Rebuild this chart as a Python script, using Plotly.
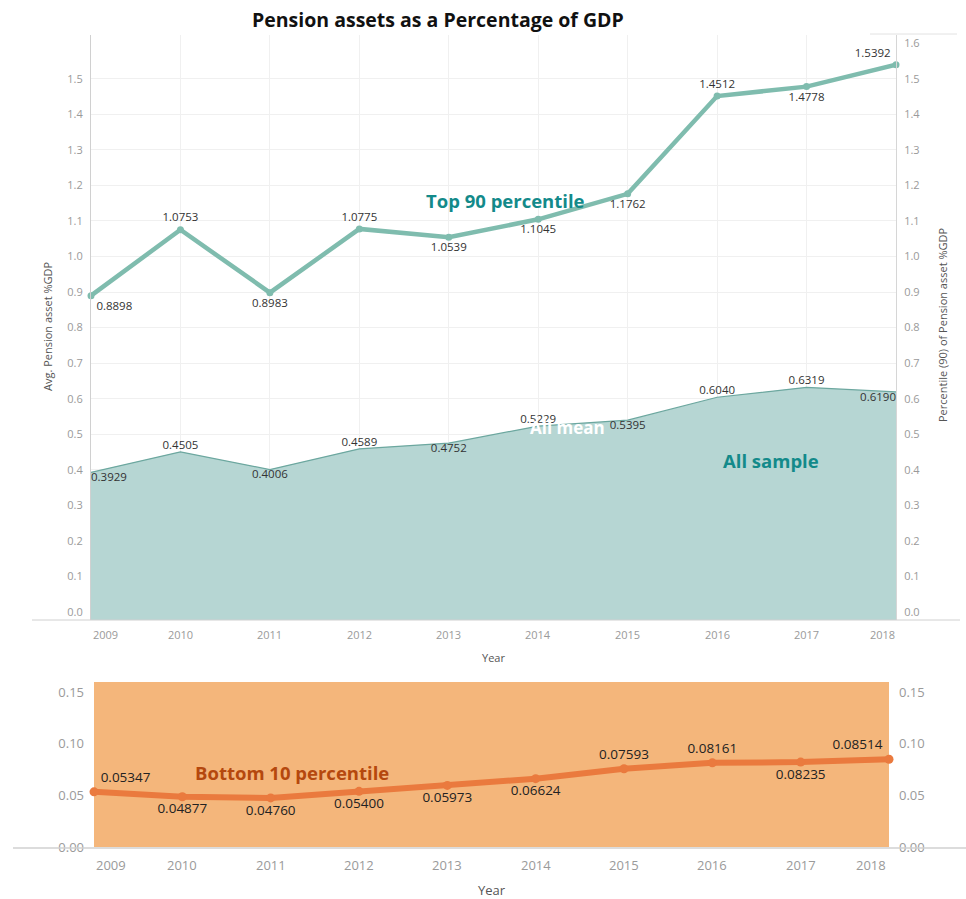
import plotly.graph_objects as go

# ---------------- data ----------------
years = [2009, 2010, 2011, 2012, 2013, 2014, 2015, 2016, 2017, 2018]
top90 = [0.8898, 1.0753, 0.8983, 1.0775, 1.0539, 1.1045, 1.1762, 1.4512, 1.4778, 1.5392]
all_mean = [0.3929, 0.4505, 0.4006, 0.4589, 0.4752, 0.5229, 0.5395, 0.6040, 0.6319, 0.6190]
bottom10 = [0.05347, 0.04877, 0.04760, 0.05400, 0.05973, 0.06624, 0.07593, 0.08161, 0.08235, 0.08514]

top90_pos = ["bottom right", "top center", "bottom center", "top center", "bottom center",
             "bottom center", "bottom center", "top center", "bottom center", "top left"]
all_pos = ["bottom right", "top center", "bottom center", "top center", "bottom center",
           "top center", "bottom center", "top center", "top center", "bottom left"]
bottom_pos = ["top right", "bottom center", "bottom center", "bottom center", "bottom center",
              "bottom center", "top center", "top center", "bottom center", "top left"]

top_left_ticks = [0.0, 0.1, 0.2, 0.3, 0.4, 0.5, 0.6, 0.7, 0.8, 0.9, 1.0, 1.1, 1.2, 1.3, 1.4, 1.5]
top_right_ticks = top_left_ticks + [1.6]
bottom_ticks = [0.00, 0.05, 0.10, 0.15]
year_labels = [str(y) for y in years]

# ---------------- layout helpers ----------------
W, H = 966, 899
def px(x):
    return x / W
def py(y):
    return 1 - y / H

TOP_YMIN, TOP_YMAX = -0.0225, 1.623
BOT_YMIN, BOT_YMAX = 0.0, 0.16

TEAL_FILL = "#b6d6d3"
TEAL_LINE = "#6ca79f"
TEAL_TOP = "#7fbcae"
TEAL_TEXT = "#138a8a"
ORANGE_BG = "#f4b67b"
ORANGE_LINE = "#ea7a3e"
ORANGE_TEXT = "#b5480e"
TICK_GRAY = "#9a9a9a"
LABEL_FONT = "Open Sans"
HEAD_FONT = "Open Sans"

fig = go.Figure()

# baseline for the area fill (bottom of the axis range)
fig.add_trace(go.Scatter(x=years, y=[TOP_YMIN] * len(years), mode="lines",
                         line=dict(width=0, color=TEAL_FILL), hoverinfo="skip",
                         showlegend=False, xaxis="x", yaxis="y"))
# All sample mean (area)
fig.add_trace(go.Scatter(x=years, y=all_mean, mode="lines+text", fill="tonexty",
                         fillcolor=TEAL_FILL, line=dict(color=TEAL_LINE, width=1.2),
                         text=[f"{v:.4f}" for v in all_mean], textposition=all_pos,
                         textfont=dict(family=LABEL_FONT, size=11.5, color="#333333"),
                         showlegend=False, xaxis="x", yaxis="y", cliponaxis=False))
# Top 90 percentile
fig.add_trace(go.Scatter(x=years, y=top90, mode="lines+markers+text",
                         line=dict(color=TEAL_TOP, width=4.5),
                         marker=dict(size=7, color=TEAL_TOP),
                         text=[f"{v:.4f}" for v in top90], textposition=top90_pos,
                         textfont=dict(family=LABEL_FONT, size=11.5, color="#333333"),
                         showlegend=False, xaxis="x", yaxis="y2", cliponaxis=False))
# Bottom 10 percentile
fig.add_trace(go.Scatter(x=years, y=bottom10, mode="lines+markers+text",
                         line=dict(color=ORANGE_LINE, width=6),
                         marker=dict(size=9, color=ORANGE_LINE),
                         text=[f"{v:.5f}" for v in bottom10], textposition=bottom_pos,
                         textfont=dict(family=LABEL_FONT, size=13.5, color="#222222"),
                         showlegend=False, xaxis="x2", yaxis="y3", cliponaxis=False))
# invisible trace carrying the right-hand bottom axis
fig.add_trace(go.Scatter(x=years, y=bottom10, mode="lines", line=dict(width=0),
                         hoverinfo="skip", showlegend=False, xaxis="x2", yaxis="y4"))

top_dom_y = [py(620), py(35)]
bot_dom_y = [py(847), py(682)]

fig.update_layout(
    width=W, height=H, margin=dict(l=0, r=0, t=0, b=0, pad=0), autosize=False,
    paper_bgcolor="white", plot_bgcolor="white",
    font=dict(family=LABEL_FONT),
    xaxis=dict(domain=[px(91), px(896)], range=[2009, 2018], tickvals=years,
               showticklabels=False, showgrid=True, gridcolor="#f0f0f0",
               zeroline=False, showline=False, anchor="y", automargin=False),
    yaxis=dict(domain=top_dom_y, range=[TOP_YMIN, TOP_YMAX], tickvals=top_left_ticks,
               ticktext=[f"{v:.1f}" for v in top_left_ticks],
               tickfont=dict(family=LABEL_FONT, size=11, color=TICK_GRAY),
               ticklabelstandoff=5, automargin=False,
               showgrid=True, gridcolor="#f0f0f0", zeroline=False,
               showline=True, linecolor="#d0d0d0", linewidth=1, anchor="x", ticks=""),
    yaxis2=dict(range=[TOP_YMIN, TOP_YMAX], tickvals=top_right_ticks,
                ticktext=[f"{v:.1f}" for v in top_right_ticks],
                tickfont=dict(family=LABEL_FONT, size=11, color=TICK_GRAY),
                ticklabelstandoff=5, automargin=False,
                overlaying="y", side="right", anchor="x", showgrid=False,
                zeroline=False, showline=True, linecolor="#d6d6d6", linewidth=1, ticks=""),
    xaxis2=dict(domain=[px(94), px(889)], range=[2009, 2018], tickvals=years,
                showticklabels=False, showgrid=False, zeroline=False, showline=False,
                anchor="y3", automargin=False),
    yaxis3=dict(domain=bot_dom_y, range=[BOT_YMIN, BOT_YMAX], tickvals=bottom_ticks,
                ticktext=[f"{v:.2f}" for v in bottom_ticks],
                tickfont=dict(family=LABEL_FONT, size=13, color=TICK_GRAY),
                ticklabelstandoff=9, automargin=False,
                showgrid=False, zeroline=False, showline=False, anchor="x2", ticks=""),
    yaxis4=dict(range=[BOT_YMIN, BOT_YMAX], tickvals=bottom_ticks,
                ticktext=[f"{v:.2f}" for v in bottom_ticks],
                tickfont=dict(family=LABEL_FONT, size=13, color=TICK_GRAY),
                ticklabelstandoff=9, automargin=False,
                overlaying="y3", side="right", anchor="x2", showgrid=False,
                zeroline=False, showline=False, ticks=""),
)

shapes = [
    # orange plot background of the bottom chart
    dict(type="rect", xref="x2 domain", yref="y3 domain", x0=0, x1=1, y0=0, y1=1,
         fillcolor=ORANGE_BG, line=dict(width=0), layer="below"),
    # baselines
    dict(type="line", xref="paper", yref="paper", x0=px(32), x1=px(960), y0=py(620), y1=py(620),
         line=dict(color="#d0d0d0", width=1)),
    dict(type="line", xref="paper", yref="paper", x0=px(13), x1=px(966), y0=py(848), y1=py(848),
         line=dict(color="#d0d0d0", width=1.5)),
    dict(type="line", xref="paper", yref="paper", x0=px(870), x1=px(957), y0=py(34), y1=py(34),
         line=dict(color="#e2e2e2", width=1)),
]
fig.update_layout(shapes=shapes)


def note(text, x, y, size, color, xref="paper", **kw):
    d = dict(text=text, xref=xref, yref="paper", x=x, y=y, showarrow=False,
             xanchor="center", yanchor="middle",
             font=dict(family=kw.pop("family", LABEL_FONT), size=size, color=color))
    d.update(kw)
    return d


ann = []
ann.append(note("<b>Pension assets as a Percentage of GDP</b>", px(438), py(20), 19.5, "#111111",
                family=HEAD_FONT))
for i, yr in enumerate(years):
    shift = 14 if i == 0 else (-14 if i == len(years) - 1 else 0)
    ann.append(note(year_labels[i], yr, py(634), 11, TICK_GRAY, xref="x", xshift=shift))
    shift2 = 17 if i == 0 else (-18 if i == len(years) - 1 else 0)
    ann.append(note(year_labels[i], yr, py(865), 13, TICK_GRAY, xref="x2", xshift=shift2))
ann.append(note("Year", px(493), py(657), 11, "#555555"))
ann.append(note("Year", px(492), py(890), 13, "#555555"))
ann.append(note("Avg. Pension asset %GDP", px(47), py(326), 11, "#555555", textangle=-90))
ann.append(note("Percentile (90) of Pension asset %GDP", px(942), py(325), 11, "#555555",
                textangle=-90))
ann.append(note("<b>Top 90 percentile</b>", px(505), py(200), 18.5, TEAL_TEXT, family=HEAD_FONT))
ann.append(note("<b>All sample</b>", px(771), py(460), 18.5, TEAL_TEXT, family=HEAD_FONT))
ann.append(note("<b>All mean</b>", px(567), py(427), 17, "#ffffff", family=HEAD_FONT))
ann.append(note("<b>Bottom 10 percentile</b>", px(292), py(772), 18.5, ORANGE_TEXT,
                family=HEAD_FONT))
fig.update_layout(annotations=ann)

# remove the browser's default 8px body margin so the figure fills the page exactly
page_js = "document.body.style.margin='0';document.body.style.padding='0';"
fig.write_html("out.html", post_script=page_js)
